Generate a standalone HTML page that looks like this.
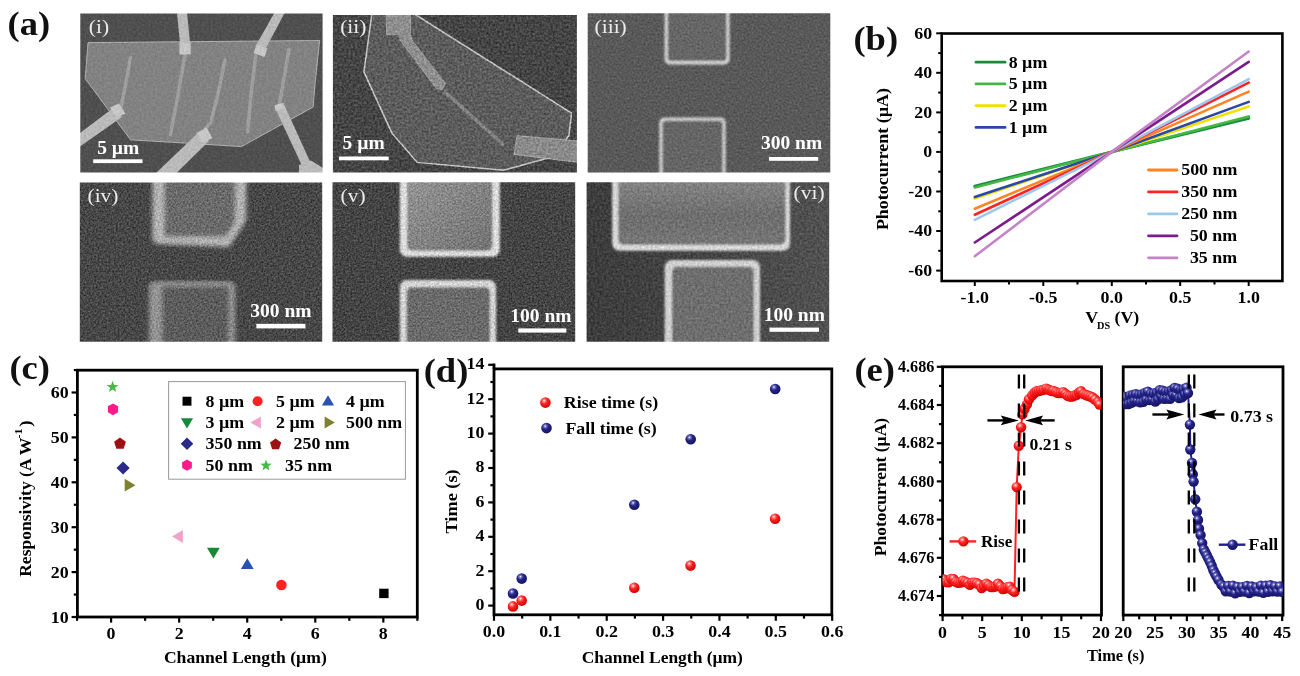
<!DOCTYPE html><html><head><meta charset="utf-8"><style>html,body{margin:0;padding:0;background:#fff;}svg{display:block;filter:blur(0.45px)}</style></head><body><svg width="1300" height="676" viewBox="0 0 1300 676"><defs>
<filter id="sn1" x="-2%" y="-2%" width="104%" height="104%" color-interpolation-filters="sRGB"><feGaussianBlur in="SourceGraphic" stdDeviation="0.6" result="b"/><feTurbulence type="fractalNoise" baseFrequency="0.45" numOctaves="2" seed="3" result="t"/><feColorMatrix in="t" type="matrix" values="1 0 0 0 0  1 0 0 0 0  1 0 0 0 0  0 0 0 0 1" result="g"/><feComposite in="b" in2="g" operator="arithmetic" k1="0" k2="1" k3="0.14" k4="-0.070" result="c"/><feGaussianBlur in="c" stdDeviation="0.45"/></filter>
<filter id="sn2" x="-2%" y="-2%" width="104%" height="104%" color-interpolation-filters="sRGB"><feGaussianBlur in="SourceGraphic" stdDeviation="0.6" result="b"/><feTurbulence type="fractalNoise" baseFrequency="0.45" numOctaves="2" seed="5" result="t"/><feColorMatrix in="t" type="matrix" values="1 0 0 0 0  1 0 0 0 0  1 0 0 0 0  0 0 0 0 1" result="g"/><feComposite in="b" in2="g" operator="arithmetic" k1="0" k2="1" k3="0.34" k4="-0.170" result="c"/><feGaussianBlur in="c" stdDeviation="0.45"/></filter>
<filter id="sn3" x="-2%" y="-2%" width="104%" height="104%" color-interpolation-filters="sRGB"><feGaussianBlur in="SourceGraphic" stdDeviation="0.6" result="b"/><feTurbulence type="fractalNoise" baseFrequency="0.5" numOctaves="2" seed="7" result="t"/><feColorMatrix in="t" type="matrix" values="1 0 0 0 0  1 0 0 0 0  1 0 0 0 0  0 0 0 0 1" result="g"/><feComposite in="b" in2="g" operator="arithmetic" k1="0" k2="1" k3="0.24" k4="-0.120" result="c"/><feGaussianBlur in="c" stdDeviation="0.45"/></filter>
<filter id="sn4" x="-2%" y="-2%" width="104%" height="104%" color-interpolation-filters="sRGB"><feGaussianBlur in="SourceGraphic" stdDeviation="0.6" result="b"/><feTurbulence type="fractalNoise" baseFrequency="0.55" numOctaves="2" seed="9" result="t"/><feColorMatrix in="t" type="matrix" values="1 0 0 0 0  1 0 0 0 0  1 0 0 0 0  0 0 0 0 1" result="g"/><feComposite in="b" in2="g" operator="arithmetic" k1="0" k2="1" k3="0.4" k4="-0.200" result="c"/><feGaussianBlur in="c" stdDeviation="0.45"/></filter>
<filter id="sn5" x="-2%" y="-2%" width="104%" height="104%" color-interpolation-filters="sRGB"><feGaussianBlur in="SourceGraphic" stdDeviation="0.6" result="b"/><feTurbulence type="fractalNoise" baseFrequency="0.55" numOctaves="2" seed="11" result="t"/><feColorMatrix in="t" type="matrix" values="1 0 0 0 0  1 0 0 0 0  1 0 0 0 0  0 0 0 0 1" result="g"/><feComposite in="b" in2="g" operator="arithmetic" k1="0" k2="1" k3="0.38" k4="-0.190" result="c"/><feGaussianBlur in="c" stdDeviation="0.45"/></filter>
<filter id="sn6" x="-2%" y="-2%" width="104%" height="104%" color-interpolation-filters="sRGB"><feGaussianBlur in="SourceGraphic" stdDeviation="0.6" result="b"/><feTurbulence type="fractalNoise" baseFrequency="0.45" numOctaves="2" seed="13" result="t"/><feColorMatrix in="t" type="matrix" values="1 0 0 0 0  1 0 0 0 0  1 0 0 0 0  0 0 0 0 1" result="g"/><feComposite in="b" in2="g" operator="arithmetic" k1="0" k2="1" k3="0.26" k4="-0.130" result="c"/><feGaussianBlur in="c" stdDeviation="0.45"/></filter>
<filter id="sb" x="-20%" y="-20%" width="140%" height="140%"><feGaussianBlur stdDeviation="1.3"/></filter>
<filter id="sb2" x="-50%" y="-300%" width="200%" height="700%"><feGaussianBlur stdDeviation="2.2"/></filter>
</defs>
<clipPath id="c1"><rect x="80.3" y="13.6" width="242.30" height="159.00"/></clipPath>
<g clip-path="url(#c1)"><g filter="url(#sn1)">
<rect x="76.3" y="9.6" width="250.30" height="167.00" fill="#4f4f4f"/>
<polygon points="88,42.6 319.6,40.5 314.5,90 313.2,107 241.5,146.6 200,144 130.5,139.8 85.2,78.6" fill="#828282" stroke="#b8b8b8" stroke-width="0.9"/>
<polyline points="130.5,57.3 126,82 121.2,106.5" fill="none" stroke="#9e9e9e" stroke-width="3.6" stroke-linecap="round"/>
<polyline points="185,54.6 178,95 170.4,134.5" fill="none" stroke="#9e9e9e" stroke-width="3.6" stroke-linecap="round"/>
<polyline points="225,60 218.9,90 210.7,122.7 205,129" fill="none" stroke="#9e9e9e" stroke-width="3.6" stroke-linecap="round"/>
<polyline points="255.7,56 251,95 247.7,131.5" fill="none" stroke="#9e9e9e" stroke-width="3.6" stroke-linecap="round"/>
<polyline points="289,49.3 284,78 279.6,103.9" fill="none" stroke="#9e9e9e" stroke-width="3.6" stroke-linecap="round"/>
<polygon points="177,13 187.1,13 190,43 180,43" fill="#bababa"/>
<rect x="179.4" y="42.6" width="11.3" height="11.8" fill="#c6c6c6"/>
<polygon points="274.3,13 284.6,13 265,50 255,47" fill="#bababa"/>
<polygon points="256.5,45 267.5,48.5 264.5,57 253.5,53" fill="#c6c6c6"/>
<polygon points="80,133 80,146.5 122,117 114.5,107" fill="#bababa"/>
<polygon points="110,107.5 119,103.5 125.5,113.5 116.5,117.5" fill="#c6c6c6"/>
<polygon points="155.5,173.5 176,173.5 209,141 200,131" fill="#bababa"/>
<polygon points="196.5,133 206.5,127.5 212.5,138 202.5,143" fill="#c6c6c6"/>
<polygon points="274.8,107.6 284.3,105 310.7,163 301.9,165.5" fill="#bababa"/>
<rect x="274.8" y="104" width="9.5" height="6" fill="#c6c6c6" transform="rotate(-15 279.5 107)"/>
<polygon points="299,165 311,160.5 323,168 323,174 299,174" fill="#bababa"/>
</g>
<text x="97.20" y="153.50" text-anchor="start" textLength="42.10" lengthAdjust="spacingAndGlyphs" style="font-family:'Liberation Serif',serif;font-weight:bold;font-size:19.5px" fill="#ffffff">5 µm</text>
<rect x="93.2" y="159.3" width="49.3" height="3.8" fill="#ffffff"/>
<text x="88.8" y="33.2" textLength="20.25" lengthAdjust="spacingAndGlyphs" fill="#ececec" style="font-family:'Liberation Serif',serif;font-size:19.5px">(i)</text>
</g>
<clipPath id="c2"><rect x="332.9" y="15.0" width="244.00" height="157.60"/></clipPath>
<g clip-path="url(#c2)"><g filter="url(#sn2)">
<rect x="328.9" y="11.0" width="252.00" height="165.60" fill="#454545"/>
<polygon points="371.9,14 414.5,14 571.5,113.1 568.9,135.7 551.6,157 503.7,170.3 417.2,162.4 391.9,133 363.9,71.9" fill="#5c5c5c" stroke="#c4c4c4" stroke-width="1.5"/>
<polygon points="386.5,14 410.5,14 410.5,34.6 412,40 445.5,83.5 442,90 436,88 399.8,40 399.8,34.6 386.5,34.6" fill="#8e8e8e" stroke="#aaaaaa" stroke-width="0.8"/>
<line x1="444" y1="91" x2="503.7" y2="145" stroke="#858585" stroke-width="3.4"/>
<polygon points="517,135.7 578,141 578,162.4 514.3,154.4" fill="#8a8a8a" stroke="#b4b4b4" stroke-width="0.8"/>
</g>
<text x="342.60" y="149.30" text-anchor="start" textLength="42.10" lengthAdjust="spacingAndGlyphs" style="font-family:'Liberation Serif',serif;font-weight:bold;font-size:19.5px" fill="#ffffff">5 µm</text>
<rect x="339" y="156.5" width="49.7" height="3.8" fill="#ffffff"/>
<text x="340.2" y="33.2" textLength="26.21" lengthAdjust="spacingAndGlyphs" fill="#ececec" style="font-family:'Liberation Serif',serif;font-size:19.5px">(ii)</text>
</g>
<clipPath id="c3"><rect x="587.7" y="13.3" width="242.60" height="159.30"/></clipPath>
<g clip-path="url(#c3)"><g filter="url(#sn3)">
<rect x="583.7" y="9.3" width="250.60" height="167.30" fill="#595959"/>
<g filter="url(#sb)"><rect x="664.6" y="2" width="65" height="62.5" rx="5" fill="#d4d4d4"/><rect x="667.8" y="2" width="58.6" height="59" rx="3" fill="#666666"/><rect x="659.3" y="117.6" width="66.4" height="62" rx="5" fill="#d0d0d0"/><rect x="662.5" y="120.8" width="60" height="60" rx="3" fill="#656565"/></g>
</g>
<text x="761.00" y="149.30" text-anchor="start" textLength="61.21" lengthAdjust="spacingAndGlyphs" style="font-family:'Liberation Serif',serif;font-weight:bold;font-size:19.5px" fill="#ffffff">300 nm</text>
<rect x="769" y="157" width="49.2" height="3.8" fill="#ffffff"/>
<text x="594.6" y="33.2" textLength="32.16" lengthAdjust="spacingAndGlyphs" fill="#ececec" style="font-family:'Liberation Serif',serif;font-size:19.5px">(iii)</text>
</g>
<clipPath id="c4"><rect x="79.8" y="182.4" width="242.40" height="159.30"/></clipPath>
<g clip-path="url(#c4)"><g filter="url(#sn4)">
<rect x="75.8" y="178.4" width="250.40" height="167.30" fill="#474747"/>
<line x1="150" y1="279.5" x2="236" y2="279.5" stroke="#333" stroke-width="2.5" opacity="0.7"/>
<g filter="url(#sb2)"><path d="M152.5,175 L246.5,175 L246,221 L229,247 L158,244 Q152.5,243 152.5,238 Z" fill="#b2b2b2"/><path d="M164.3,175 L235.3,175 L235.3,222 L226,236.8 L164.3,236.8 Z" fill="#6a6a6a"/><rect x="149" y="281.1" width="86.3" height="70" rx="6" fill="#939393"/><rect x="162.2" y="286.6" width="66.5" height="60" rx="2" fill="#5c5c5c"/></g>
</g>
<text x="250.30" y="316.60" text-anchor="start" textLength="61.21" lengthAdjust="spacingAndGlyphs" style="font-family:'Liberation Serif',serif;font-weight:bold;font-size:19.5px" fill="#ffffff">300 nm</text>
<rect x="256.4" y="323.8" width="49" height="4.6" fill="#ffffff"/>
<text x="87.5" y="202.3" textLength="30.97" lengthAdjust="spacingAndGlyphs" fill="#ececec" style="font-family:'Liberation Serif',serif;font-size:19.5px">(iv)</text>
</g>
<clipPath id="c5"><rect x="332.5" y="182.2" width="242.70" height="159.50"/></clipPath>
<g clip-path="url(#c5)"><g filter="url(#sn5)">
<rect x="328.5" y="178.2" width="250.70" height="167.50" fill="#444444"/>
<defs><linearGradient id="gv1" x1="0" y1="0" x2="1" y2="1"><stop offset="0" stop-color="#969696"/><stop offset="1" stop-color="#727272"/></linearGradient><linearGradient id="gv2" x1="0" y1="0" x2="0" y2="1"><stop offset="0" stop-color="#8a8a8a"/><stop offset="0.6" stop-color="#6e6e6e"/><stop offset="1" stop-color="#767676"/></linearGradient><linearGradient id="gvb" x1="0" y1="0" x2="1" y2="0"><stop offset="0" stop-color="#3c3c3c"/><stop offset="0.5" stop-color="#454545"/><stop offset="1" stop-color="#525252"/></linearGradient></defs>
<g filter="url(#sb)"><rect x="399.8" y="172" width="100" height="84.8" rx="7" fill="#dcdcdc"/><rect x="407" y="172" width="85.4" height="78.7" rx="5" fill="url(#gv1)"/><rect x="399.8" y="280" width="96.3" height="70" rx="7" fill="#d4d4d4"/><rect x="406.6" y="287.3" width="83.4" height="60" rx="5" fill="#6a6a6a"/></g>
</g>
<text x="510.30" y="321.80" text-anchor="start" textLength="61.21" lengthAdjust="spacingAndGlyphs" style="font-family:'Liberation Serif',serif;font-weight:bold;font-size:19.5px" fill="#ffffff">100 nm</text>
<rect x="518.3" y="328.4" width="48" height="4.2" fill="#ffffff"/>
<text x="340.6" y="202.3" textLength="25.01" lengthAdjust="spacingAndGlyphs" fill="#ececec" style="font-family:'Liberation Serif',serif;font-size:19.5px">(v)</text>
</g>
<clipPath id="c6"><rect x="586.6" y="182.2" width="242.60" height="159.50"/></clipPath>
<g clip-path="url(#c6)"><g filter="url(#sn6)">
<rect x="582.6" y="178.2" width="250.60" height="167.50" fill="#484848"/>
<rect x="582" y="178" width="252" height="168" fill="url(#gvb)"/>
<g filter="url(#sb)"><rect x="612.2" y="172" width="177.8" height="78.8" rx="7" fill="#d8d8d8"/><rect x="618.3" y="172" width="167.3" height="72.7" rx="5" fill="url(#gv2)"/><rect x="664.7" y="260.1" width="95.3" height="90" rx="7" fill="#d0d0d0"/><rect x="672" y="266.7" width="81.8" height="80" rx="5" fill="#6e6e6e"/></g>
</g>
<text x="763.70" y="321.30" text-anchor="start" textLength="61.21" lengthAdjust="spacingAndGlyphs" style="font-family:'Liberation Serif',serif;font-weight:bold;font-size:19.5px" fill="#ffffff">100 nm</text>
<rect x="769.5" y="327.6" width="49.5" height="4.2" fill="#ffffff"/>
<text x="793.6" y="199.0" textLength="30.97" lengthAdjust="spacingAndGlyphs" fill="#ececec" style="font-family:'Liberation Serif',serif;font-size:19.5px">(vi)</text>
</g>
<polyline points="974.8,186.2 1111.8,151.9 1248.7,118.3" fill="none" stroke="#1a8a3c" stroke-width="3.0" stroke-linecap="round"/>
<polyline points="974.8,187.5 1111.8,151.9 1248.7,116.4" fill="none" stroke="#44b844" stroke-width="2.6" stroke-linecap="round"/>
<polyline points="974.8,198.4 1111.8,151.9 1248.7,106.5" fill="none" stroke="#f2e000" stroke-width="2.6" stroke-linecap="round"/>
<polyline points="974.8,197.0 1111.8,151.9 1248.7,101.9" fill="none" stroke="#2a48a8" stroke-width="2.6" stroke-linecap="round"/>
<polyline points="974.8,208.7 1111.8,151.9 1248.7,91.6" fill="none" stroke="#ff8424" stroke-width="2.6" stroke-linecap="round"/>
<polyline points="974.8,214.8 1111.8,151.9 1248.7,82.7" fill="none" stroke="#ff2424" stroke-width="2.6" stroke-linecap="round"/>
<polyline points="974.8,219.8 1111.8,151.9 1248.7,79.2" fill="none" stroke="#9cc8ee" stroke-width="2.6" stroke-linecap="round"/>
<polyline points="974.8,242.5 1111.8,151.9 1248.7,61.8" fill="none" stroke="#7c1c8c" stroke-width="2.6" stroke-linecap="round"/>
<polyline points="974.8,256.2 1111.8,151.9 1248.7,51.5" fill="none" stroke="#c484c8" stroke-width="2.6" stroke-linecap="round"/>
<rect x="941.7" y="33.5" width="340.70000000000005" height="247.5" fill="none" stroke="#000" stroke-width="2.6"/>
<line x1="936.2" y1="270.6" x2="941.7" y2="270.6" stroke="#000" stroke-width="2"/>
<text x="932.20" y="275.80" text-anchor="end" textLength="23.84" lengthAdjust="spacingAndGlyphs" style="font-family:'Liberation Serif',serif;font-weight:bold;font-size:17.2px" fill="#000">-60</text>
<line x1="938.2" y1="250.8" x2="941.7" y2="250.8" stroke="#000" stroke-width="2"/>
<line x1="936.2" y1="231.0" x2="941.7" y2="231.0" stroke="#000" stroke-width="2"/>
<text x="932.20" y="236.25" text-anchor="end" textLength="23.84" lengthAdjust="spacingAndGlyphs" style="font-family:'Liberation Serif',serif;font-weight:bold;font-size:17.2px" fill="#000">-40</text>
<line x1="938.2" y1="211.3" x2="941.7" y2="211.3" stroke="#000" stroke-width="2"/>
<line x1="936.2" y1="191.5" x2="941.7" y2="191.5" stroke="#000" stroke-width="2"/>
<text x="932.20" y="196.70" text-anchor="end" textLength="23.84" lengthAdjust="spacingAndGlyphs" style="font-family:'Liberation Serif',serif;font-weight:bold;font-size:17.2px" fill="#000">-20</text>
<line x1="938.2" y1="171.7" x2="941.7" y2="171.7" stroke="#000" stroke-width="2"/>
<line x1="936.2" y1="151.9" x2="941.7" y2="151.9" stroke="#000" stroke-width="2"/>
<text x="932.20" y="157.15" text-anchor="end" textLength="8.94" lengthAdjust="spacingAndGlyphs" style="font-family:'Liberation Serif',serif;font-weight:bold;font-size:17.2px" fill="#000">0</text>
<line x1="938.2" y1="132.2" x2="941.7" y2="132.2" stroke="#000" stroke-width="2"/>
<line x1="936.2" y1="112.4" x2="941.7" y2="112.4" stroke="#000" stroke-width="2"/>
<text x="932.20" y="117.60" text-anchor="end" textLength="17.89" lengthAdjust="spacingAndGlyphs" style="font-family:'Liberation Serif',serif;font-weight:bold;font-size:17.2px" fill="#000">20</text>
<line x1="938.2" y1="92.6" x2="941.7" y2="92.6" stroke="#000" stroke-width="2"/>
<line x1="936.2" y1="72.8" x2="941.7" y2="72.8" stroke="#000" stroke-width="2"/>
<text x="932.20" y="78.05" text-anchor="end" textLength="17.89" lengthAdjust="spacingAndGlyphs" style="font-family:'Liberation Serif',serif;font-weight:bold;font-size:17.2px" fill="#000">40</text>
<line x1="938.2" y1="53.1" x2="941.7" y2="53.1" stroke="#000" stroke-width="2"/>
<line x1="936.2" y1="33.3" x2="941.7" y2="33.3" stroke="#000" stroke-width="2"/>
<text x="932.20" y="38.50" text-anchor="end" textLength="17.89" lengthAdjust="spacingAndGlyphs" style="font-family:'Liberation Serif',serif;font-weight:bold;font-size:17.2px" fill="#000">60</text>
<line x1="974.8" y1="281.0" x2="974.8" y2="286.0" stroke="#000" stroke-width="2"/>
<text x="974.80" y="302.50" text-anchor="middle" textLength="28.32" lengthAdjust="spacingAndGlyphs" style="font-family:'Liberation Serif',serif;font-weight:bold;font-size:17.2px" fill="#000">-1.0</text>
<line x1="1009.0" y1="281.0" x2="1009.0" y2="284.5" stroke="#000" stroke-width="2"/>
<line x1="1043.3" y1="281.0" x2="1043.3" y2="286.0" stroke="#000" stroke-width="2"/>
<text x="1043.28" y="302.50" text-anchor="middle" textLength="28.32" lengthAdjust="spacingAndGlyphs" style="font-family:'Liberation Serif',serif;font-weight:bold;font-size:17.2px" fill="#000">-0.5</text>
<line x1="1077.5" y1="281.0" x2="1077.5" y2="284.5" stroke="#000" stroke-width="2"/>
<line x1="1111.8" y1="281.0" x2="1111.8" y2="286.0" stroke="#000" stroke-width="2"/>
<text x="1111.75" y="302.50" text-anchor="middle" textLength="22.36" lengthAdjust="spacingAndGlyphs" style="font-family:'Liberation Serif',serif;font-weight:bold;font-size:17.2px" fill="#000">0.0</text>
<line x1="1146.0" y1="281.0" x2="1146.0" y2="284.5" stroke="#000" stroke-width="2"/>
<line x1="1180.2" y1="281.0" x2="1180.2" y2="286.0" stroke="#000" stroke-width="2"/>
<text x="1180.22" y="302.50" text-anchor="middle" textLength="22.36" lengthAdjust="spacingAndGlyphs" style="font-family:'Liberation Serif',serif;font-weight:bold;font-size:17.2px" fill="#000">0.5</text>
<line x1="1214.5" y1="281.0" x2="1214.5" y2="284.5" stroke="#000" stroke-width="2"/>
<line x1="1248.7" y1="281.0" x2="1248.7" y2="286.0" stroke="#000" stroke-width="2"/>
<text x="1248.70" y="302.50" text-anchor="middle" textLength="22.36" lengthAdjust="spacingAndGlyphs" style="font-family:'Liberation Serif',serif;font-weight:bold;font-size:17.2px" fill="#000">1.0</text>
<text x="1085.30" y="322.50" text-anchor="start" textLength="12.92" lengthAdjust="spacingAndGlyphs" style="font-family:'Liberation Serif',serif;font-weight:bold;font-size:17.2px" fill="#000">V</text>
<text x="1097.00" y="329.20" text-anchor="start" textLength="13.12" lengthAdjust="spacingAndGlyphs" style="font-family:'Liberation Serif',serif;font-weight:bold;font-size:9.5px" fill="#000">DS</text>
<text x="1114.50" y="322.50" text-anchor="start" textLength="24.83" lengthAdjust="spacingAndGlyphs" style="font-family:'Liberation Serif',serif;font-weight:bold;font-size:17.2px" fill="#000">(V)</text>
<text transform="translate(887.70,230.10) rotate(-90)" x="0" y="0" text-anchor="start" textLength="142.00" lengthAdjust="spacingAndGlyphs" style="font-family:'Liberation Serif',serif;font-weight:bold;font-size:17.2px" fill="#000">Photocurrent (µA)</text>
<line x1="976" y1="62.2" x2="1005" y2="62.2" stroke="#1a8a3c" stroke-width="2.8" stroke-linecap="round"/>
<text x="1008.70" y="67.50" text-anchor="start" textLength="38.62" lengthAdjust="spacingAndGlyphs" style="font-family:'Liberation Serif',serif;font-weight:bold;font-size:17.2px" fill="#000">8 µm</text>
<line x1="976" y1="83.95" x2="1005" y2="83.95" stroke="#44b844" stroke-width="2.8" stroke-linecap="round"/>
<text x="1008.70" y="89.25" text-anchor="start" textLength="38.62" lengthAdjust="spacingAndGlyphs" style="font-family:'Liberation Serif',serif;font-weight:bold;font-size:17.2px" fill="#000">5 µm</text>
<line x1="976" y1="105.7" x2="1005" y2="105.7" stroke="#f2e000" stroke-width="2.8" stroke-linecap="round"/>
<text x="1008.70" y="111.00" text-anchor="start" textLength="38.62" lengthAdjust="spacingAndGlyphs" style="font-family:'Liberation Serif',serif;font-weight:bold;font-size:17.2px" fill="#000">2 µm</text>
<line x1="976" y1="127.45" x2="1005" y2="127.45" stroke="#2a48a8" stroke-width="2.8" stroke-linecap="round"/>
<text x="1008.70" y="132.75" text-anchor="start" textLength="38.62" lengthAdjust="spacingAndGlyphs" style="font-family:'Liberation Serif',serif;font-weight:bold;font-size:17.2px" fill="#000">1 µm</text>
<line x1="1148.5" y1="170.0" x2="1177" y2="170.0" stroke="#ff8424" stroke-width="2.8" stroke-linecap="round"/>
<text x="1181.20" y="175.30" text-anchor="start" textLength="56.15" lengthAdjust="spacingAndGlyphs" style="font-family:'Liberation Serif',serif;font-weight:bold;font-size:17.2px" fill="#000">500 nm</text>
<line x1="1148.5" y1="191.95" x2="1177" y2="191.95" stroke="#ff2424" stroke-width="2.8" stroke-linecap="round"/>
<text x="1181.20" y="197.25" text-anchor="start" textLength="56.15" lengthAdjust="spacingAndGlyphs" style="font-family:'Liberation Serif',serif;font-weight:bold;font-size:17.2px" fill="#000">350 nm</text>
<line x1="1148.5" y1="213.9" x2="1177" y2="213.9" stroke="#9cc8ee" stroke-width="2.8" stroke-linecap="round"/>
<text x="1181.20" y="219.20" text-anchor="start" textLength="56.15" lengthAdjust="spacingAndGlyphs" style="font-family:'Liberation Serif',serif;font-weight:bold;font-size:17.2px" fill="#000">250 nm</text>
<line x1="1148.5" y1="235.85" x2="1177" y2="235.85" stroke="#7c1c8c" stroke-width="2.8" stroke-linecap="round"/>
<text x="1189.90" y="241.15" text-anchor="start" textLength="47.21" lengthAdjust="spacingAndGlyphs" style="font-family:'Liberation Serif',serif;font-weight:bold;font-size:17.2px" fill="#000">50 nm</text>
<line x1="1148.5" y1="257.8" x2="1177" y2="257.8" stroke="#c484c8" stroke-width="2.8" stroke-linecap="round"/>
<text x="1189.90" y="263.10" text-anchor="start" textLength="47.21" lengthAdjust="spacingAndGlyphs" style="font-family:'Liberation Serif',serif;font-weight:bold;font-size:17.2px" fill="#000">35 nm</text>
<text x="7.6" y="35.4" textLength="42.64" lengthAdjust="spacingAndGlyphs" style="font-family:'Liberation Serif',serif;font-weight:bold;font-size:34.5px" fill="#111">(a)</text>
<text x="853.4" y="50.0" textLength="44.70" lengthAdjust="spacingAndGlyphs" style="font-family:'Liberation Serif',serif;font-weight:bold;font-size:34.5px" fill="#111">(b)</text>
<rect x="77.4" y="370.2" width="339.9" height="246.8" fill="none" stroke="#000" stroke-width="2.8"/>
<line x1="71.60" y1="617.00" x2="77.40" y2="617.00" stroke="#000" stroke-width="2.2"/>
<text x="68.60" y="622.60" text-anchor="end" textLength="17.89" lengthAdjust="spacingAndGlyphs" style="font-family:'Liberation Serif',serif;font-weight:bold;font-size:17.2px" fill="#000">10</text>
<line x1="73.80" y1="594.55" x2="77.40" y2="594.55" stroke="#000" stroke-width="2.2"/>
<line x1="71.60" y1="572.10" x2="77.40" y2="572.10" stroke="#000" stroke-width="2.2"/>
<text x="68.60" y="577.70" text-anchor="end" textLength="17.89" lengthAdjust="spacingAndGlyphs" style="font-family:'Liberation Serif',serif;font-weight:bold;font-size:17.2px" fill="#000">20</text>
<line x1="73.80" y1="549.65" x2="77.40" y2="549.65" stroke="#000" stroke-width="2.2"/>
<line x1="71.60" y1="527.20" x2="77.40" y2="527.20" stroke="#000" stroke-width="2.2"/>
<text x="68.60" y="532.80" text-anchor="end" textLength="17.89" lengthAdjust="spacingAndGlyphs" style="font-family:'Liberation Serif',serif;font-weight:bold;font-size:17.2px" fill="#000">30</text>
<line x1="73.80" y1="504.75" x2="77.40" y2="504.75" stroke="#000" stroke-width="2.2"/>
<line x1="71.60" y1="482.30" x2="77.40" y2="482.30" stroke="#000" stroke-width="2.2"/>
<text x="68.60" y="487.90" text-anchor="end" textLength="17.89" lengthAdjust="spacingAndGlyphs" style="font-family:'Liberation Serif',serif;font-weight:bold;font-size:17.2px" fill="#000">40</text>
<line x1="73.80" y1="459.85" x2="77.40" y2="459.85" stroke="#000" stroke-width="2.2"/>
<line x1="71.60" y1="437.40" x2="77.40" y2="437.40" stroke="#000" stroke-width="2.2"/>
<text x="68.60" y="443.00" text-anchor="end" textLength="17.89" lengthAdjust="spacingAndGlyphs" style="font-family:'Liberation Serif',serif;font-weight:bold;font-size:17.2px" fill="#000">50</text>
<line x1="73.80" y1="414.95" x2="77.40" y2="414.95" stroke="#000" stroke-width="2.2"/>
<line x1="71.60" y1="392.50" x2="77.40" y2="392.50" stroke="#000" stroke-width="2.2"/>
<text x="68.60" y="398.10" text-anchor="end" textLength="17.89" lengthAdjust="spacingAndGlyphs" style="font-family:'Liberation Serif',serif;font-weight:bold;font-size:17.2px" fill="#000">60</text>
<line x1="73.80" y1="370.05" x2="77.40" y2="370.05" stroke="#000" stroke-width="2.2"/>
<line x1="77.07" y1="617.00" x2="77.07" y2="620.80" stroke="#000" stroke-width="2.2"/>
<line x1="111.10" y1="617.00" x2="111.10" y2="622.60" stroke="#000" stroke-width="2.2"/>
<text x="111.10" y="639.30" text-anchor="middle" textLength="8.94" lengthAdjust="spacingAndGlyphs" style="font-family:'Liberation Serif',serif;font-weight:bold;font-size:17.2px" fill="#000">0</text>
<line x1="145.13" y1="617.00" x2="145.13" y2="620.80" stroke="#000" stroke-width="2.2"/>
<line x1="179.16" y1="617.00" x2="179.16" y2="622.60" stroke="#000" stroke-width="2.2"/>
<text x="179.16" y="639.30" text-anchor="middle" textLength="8.94" lengthAdjust="spacingAndGlyphs" style="font-family:'Liberation Serif',serif;font-weight:bold;font-size:17.2px" fill="#000">2</text>
<line x1="213.19" y1="617.00" x2="213.19" y2="620.80" stroke="#000" stroke-width="2.2"/>
<line x1="247.22" y1="617.00" x2="247.22" y2="622.60" stroke="#000" stroke-width="2.2"/>
<text x="247.22" y="639.30" text-anchor="middle" textLength="8.94" lengthAdjust="spacingAndGlyphs" style="font-family:'Liberation Serif',serif;font-weight:bold;font-size:17.2px" fill="#000">4</text>
<line x1="281.25" y1="617.00" x2="281.25" y2="620.80" stroke="#000" stroke-width="2.2"/>
<line x1="315.28" y1="617.00" x2="315.28" y2="622.60" stroke="#000" stroke-width="2.2"/>
<text x="315.28" y="639.30" text-anchor="middle" textLength="8.94" lengthAdjust="spacingAndGlyphs" style="font-family:'Liberation Serif',serif;font-weight:bold;font-size:17.2px" fill="#000">6</text>
<line x1="349.31" y1="617.00" x2="349.31" y2="620.80" stroke="#000" stroke-width="2.2"/>
<line x1="383.34" y1="617.00" x2="383.34" y2="622.60" stroke="#000" stroke-width="2.2"/>
<text x="383.34" y="639.30" text-anchor="middle" textLength="8.94" lengthAdjust="spacingAndGlyphs" style="font-family:'Liberation Serif',serif;font-weight:bold;font-size:17.2px" fill="#000">8</text>
<line x1="417.37" y1="617.00" x2="417.37" y2="620.80" stroke="#000" stroke-width="2.2"/>
<text x="163.90" y="663.40" text-anchor="start" textLength="162.90" lengthAdjust="spacingAndGlyphs" style="font-family:'Liberation Serif',serif;font-weight:bold;font-size:17.2px" fill="#000">Channel Length (µm)</text>
<text transform="translate(31.40,576.80) rotate(-90)" x="0" y="0" text-anchor="start" textLength="139.00" lengthAdjust="spacingAndGlyphs" style="font-family:'Liberation Serif',serif;font-weight:bold;font-size:17.2px" fill="#000">Responsivity (A W</text>
<text transform="translate(21.80,438.60) rotate(-90)" x="0" y="0" text-anchor="start" textLength="10.08" lengthAdjust="spacingAndGlyphs" style="font-family:'Liberation Serif',serif;font-weight:bold;font-size:11px" fill="#000">-1</text>
<text transform="translate(31.40,426.80) rotate(-90)" x="0" y="0" text-anchor="start" textLength="6.30" lengthAdjust="spacingAndGlyphs" style="font-family:'Liberation Serif',serif;font-weight:bold;font-size:17.2px" fill="#000">)</text>
<rect x="379.20" y="588.70" width="9.40" height="9.40" fill="#000000"/>
<circle cx="281.4" cy="585.0" r="5.30" fill="#ff2222"/>
<polygon points="240.90,569.10 253.70,569.10 247.30,558.30" fill="#2a52b2"/>
<polygon points="207.00,547.70 219.80,547.70 213.40,558.50" fill="#178a3a"/>
<polygon points="182.90,530.10 182.90,542.90 172.10,536.50" fill="#f2a2c8"/>
<polygon points="124.70,478.80 124.70,491.60 135.50,485.20" fill="#808030"/>
<polygon points="123.1,461.40 129.70,468.0 123.1,474.60 116.50,468.0" fill="#2a2a88"/>
<polygon points="120.00,437.50 125.90,441.78 123.64,448.72 116.36,448.72 114.10,441.78" fill="#9c1212"/>
<polygon points="113.00,403.40 118.11,406.35 118.11,412.25 113.00,415.20 107.89,412.25 107.89,406.35" fill="#ff1a8c"/>
<polygon points="112.60,380.70 114.13,384.90 118.59,385.05 115.07,387.80 116.30,392.10 112.60,389.60 108.90,392.10 110.13,387.80 106.61,385.05 111.07,384.90" fill="#44bb44"/>
<rect x="168.6" y="381.6" width="236.8" height="97.6" fill="#fff" stroke="#999" stroke-width="1"/>
<rect x="182.53" y="396.74" width="8.93" height="8.93" fill="#000000"/>
<text x="205.60" y="406.80" text-anchor="start" textLength="38.62" lengthAdjust="spacingAndGlyphs" style="font-family:'Liberation Serif',serif;font-weight:bold;font-size:17.2px" fill="#000">8 µm</text>
<circle cx="257.6" cy="401.2" r="5.03" fill="#ff2222"/>
<text x="276.00" y="406.80" text-anchor="start" textLength="38.62" lengthAdjust="spacingAndGlyphs" style="font-family:'Liberation Serif',serif;font-weight:bold;font-size:17.2px" fill="#000">5 µm</text>
<polygon points="321.92,405.57 334.08,405.57 328.00,395.31" fill="#2a52b2"/>
<text x="346.00" y="406.80" text-anchor="start" textLength="38.62" lengthAdjust="spacingAndGlyphs" style="font-family:'Liberation Serif',serif;font-weight:bold;font-size:17.2px" fill="#000">4 µm</text>
<polygon points="180.92,418.13 193.08,418.13 187.00,428.39" fill="#178a3a"/>
<text x="205.60" y="428.10" text-anchor="start" textLength="38.62" lengthAdjust="spacingAndGlyphs" style="font-family:'Liberation Serif',serif;font-weight:bold;font-size:17.2px" fill="#000">3 µm</text>
<polygon points="260.87,416.42 260.87,428.58 250.61,422.50" fill="#f2a2c8"/>
<text x="276.00" y="428.10" text-anchor="start" textLength="38.62" lengthAdjust="spacingAndGlyphs" style="font-family:'Liberation Serif',serif;font-weight:bold;font-size:17.2px" fill="#000">2 µm</text>
<polygon points="324.63,416.42 324.63,428.58 334.89,422.50" fill="#808030"/>
<text x="346.00" y="428.10" text-anchor="start" textLength="56.15" lengthAdjust="spacingAndGlyphs" style="font-family:'Liberation Serif',serif;font-weight:bold;font-size:17.2px" fill="#000">500 nm</text>
<polygon points="187,437.53 193.27,443.8 187,450.07 180.73,443.8" fill="#2a2a88"/>
<text x="205.60" y="449.40" text-anchor="start" textLength="56.15" lengthAdjust="spacingAndGlyphs" style="font-family:'Liberation Serif',serif;font-weight:bold;font-size:17.2px" fill="#000">350 nm</text>
<polygon points="275.60,438.48 281.20,442.55 279.06,449.14 272.14,449.14 270.00,442.55" fill="#9c1212"/>
<text x="293.60" y="449.40" text-anchor="start" textLength="56.15" lengthAdjust="spacingAndGlyphs" style="font-family:'Liberation Serif',serif;font-weight:bold;font-size:17.2px" fill="#000">250 nm</text>
<polygon points="187.00,459.50 191.85,462.30 191.85,467.90 187.00,470.71 182.15,467.90 182.15,462.30" fill="#ff1a8c"/>
<text x="205.60" y="470.70" text-anchor="start" textLength="47.21" lengthAdjust="spacingAndGlyphs" style="font-family:'Liberation Serif',serif;font-weight:bold;font-size:17.2px" fill="#000">50 nm</text>
<polygon points="266.00,459.59 267.45,463.58 271.69,463.73 268.35,466.34 269.52,470.42 266.00,468.05 262.48,470.42 263.65,466.34 260.31,463.73 264.55,463.58" fill="#44bb44"/>
<text x="285.00" y="470.70" text-anchor="start" textLength="47.21" lengthAdjust="spacingAndGlyphs" style="font-family:'Liberation Serif',serif;font-weight:bold;font-size:17.2px" fill="#000">35 nm</text>
<text x="9.4" y="379.2" textLength="40.59" lengthAdjust="spacingAndGlyphs" style="font-family:'Liberation Serif',serif;font-weight:bold;font-size:34.5px" fill="#111">(c)</text>
<defs><radialGradient id="gr" cx="0.38" cy="0.32" r="0.7"><stop offset="0" stop-color="#ffffff"/><stop offset="0.18" stop-color="#ff8080"/><stop offset="0.45" stop-color="#ff2020"/><stop offset="1" stop-color="#d00000"/></radialGradient><radialGradient id="gb" cx="0.38" cy="0.32" r="0.7"><stop offset="0" stop-color="#ffffff"/><stop offset="0.18" stop-color="#7070c0"/><stop offset="0.45" stop-color="#222288"/><stop offset="1" stop-color="#141460"/></radialGradient></defs>
<rect x="494.0" y="368.9" width="337.79999999999995" height="245.89999999999998" fill="none" stroke="#000" stroke-width="2.8"/>
<line x1="494.00" y1="363.50" x2="494.00" y2="368.90" stroke="#000" stroke-width="2.8"/>
<line x1="488.20" y1="605.60" x2="494.00" y2="605.60" stroke="#000" stroke-width="2.2"/>
<text x="484.50" y="609.90" text-anchor="end" textLength="8.94" lengthAdjust="spacingAndGlyphs" style="font-family:'Liberation Serif',serif;font-weight:bold;font-size:17.2px" fill="#000">0</text>
<line x1="490.40" y1="588.40" x2="494.00" y2="588.40" stroke="#000" stroke-width="2.2"/>
<line x1="488.20" y1="571.20" x2="494.00" y2="571.20" stroke="#000" stroke-width="2.2"/>
<text x="484.50" y="575.50" text-anchor="end" textLength="8.94" lengthAdjust="spacingAndGlyphs" style="font-family:'Liberation Serif',serif;font-weight:bold;font-size:17.2px" fill="#000">2</text>
<line x1="490.40" y1="554.00" x2="494.00" y2="554.00" stroke="#000" stroke-width="2.2"/>
<line x1="488.20" y1="536.80" x2="494.00" y2="536.80" stroke="#000" stroke-width="2.2"/>
<text x="484.50" y="541.10" text-anchor="end" textLength="8.94" lengthAdjust="spacingAndGlyphs" style="font-family:'Liberation Serif',serif;font-weight:bold;font-size:17.2px" fill="#000">4</text>
<line x1="490.40" y1="519.60" x2="494.00" y2="519.60" stroke="#000" stroke-width="2.2"/>
<line x1="488.20" y1="502.40" x2="494.00" y2="502.40" stroke="#000" stroke-width="2.2"/>
<text x="484.50" y="506.70" text-anchor="end" textLength="8.94" lengthAdjust="spacingAndGlyphs" style="font-family:'Liberation Serif',serif;font-weight:bold;font-size:17.2px" fill="#000">6</text>
<line x1="490.40" y1="485.20" x2="494.00" y2="485.20" stroke="#000" stroke-width="2.2"/>
<line x1="488.20" y1="468.00" x2="494.00" y2="468.00" stroke="#000" stroke-width="2.2"/>
<text x="484.50" y="472.30" text-anchor="end" textLength="8.94" lengthAdjust="spacingAndGlyphs" style="font-family:'Liberation Serif',serif;font-weight:bold;font-size:17.2px" fill="#000">8</text>
<line x1="490.40" y1="450.80" x2="494.00" y2="450.80" stroke="#000" stroke-width="2.2"/>
<line x1="488.20" y1="433.60" x2="494.00" y2="433.60" stroke="#000" stroke-width="2.2"/>
<text x="484.50" y="437.90" text-anchor="end" textLength="17.89" lengthAdjust="spacingAndGlyphs" style="font-family:'Liberation Serif',serif;font-weight:bold;font-size:17.2px" fill="#000">10</text>
<line x1="490.40" y1="416.40" x2="494.00" y2="416.40" stroke="#000" stroke-width="2.2"/>
<line x1="488.20" y1="399.20" x2="494.00" y2="399.20" stroke="#000" stroke-width="2.2"/>
<text x="484.50" y="403.50" text-anchor="end" textLength="17.89" lengthAdjust="spacingAndGlyphs" style="font-family:'Liberation Serif',serif;font-weight:bold;font-size:17.2px" fill="#000">12</text>
<line x1="490.40" y1="382.00" x2="494.00" y2="382.00" stroke="#000" stroke-width="2.2"/>
<line x1="488.20" y1="364.80" x2="494.00" y2="364.80" stroke="#000" stroke-width="2.2"/>
<text x="484.50" y="369.10" text-anchor="end" textLength="17.89" lengthAdjust="spacingAndGlyphs" style="font-family:'Liberation Serif',serif;font-weight:bold;font-size:17.2px" fill="#000">14</text>
<line x1="494.00" y1="614.80" x2="494.00" y2="620.80" stroke="#000" stroke-width="2.2"/>
<text x="494.00" y="637.30" text-anchor="middle" textLength="22.36" lengthAdjust="spacingAndGlyphs" style="font-family:'Liberation Serif',serif;font-weight:bold;font-size:17.2px" fill="#000">0.0</text>
<line x1="522.18" y1="614.80" x2="522.18" y2="618.60" stroke="#000" stroke-width="2.2"/>
<line x1="550.36" y1="614.80" x2="550.36" y2="620.80" stroke="#000" stroke-width="2.2"/>
<text x="550.36" y="637.30" text-anchor="middle" textLength="22.36" lengthAdjust="spacingAndGlyphs" style="font-family:'Liberation Serif',serif;font-weight:bold;font-size:17.2px" fill="#000">0.1</text>
<line x1="578.54" y1="614.80" x2="578.54" y2="618.60" stroke="#000" stroke-width="2.2"/>
<line x1="606.72" y1="614.80" x2="606.72" y2="620.80" stroke="#000" stroke-width="2.2"/>
<text x="606.72" y="637.30" text-anchor="middle" textLength="22.36" lengthAdjust="spacingAndGlyphs" style="font-family:'Liberation Serif',serif;font-weight:bold;font-size:17.2px" fill="#000">0.2</text>
<line x1="634.90" y1="614.80" x2="634.90" y2="618.60" stroke="#000" stroke-width="2.2"/>
<line x1="663.08" y1="614.80" x2="663.08" y2="620.80" stroke="#000" stroke-width="2.2"/>
<text x="663.08" y="637.30" text-anchor="middle" textLength="22.36" lengthAdjust="spacingAndGlyphs" style="font-family:'Liberation Serif',serif;font-weight:bold;font-size:17.2px" fill="#000">0.3</text>
<line x1="691.26" y1="614.80" x2="691.26" y2="618.60" stroke="#000" stroke-width="2.2"/>
<line x1="719.44" y1="614.80" x2="719.44" y2="620.80" stroke="#000" stroke-width="2.2"/>
<text x="719.44" y="637.30" text-anchor="middle" textLength="22.36" lengthAdjust="spacingAndGlyphs" style="font-family:'Liberation Serif',serif;font-weight:bold;font-size:17.2px" fill="#000">0.4</text>
<line x1="747.62" y1="614.80" x2="747.62" y2="618.60" stroke="#000" stroke-width="2.2"/>
<line x1="775.80" y1="614.80" x2="775.80" y2="620.80" stroke="#000" stroke-width="2.2"/>
<text x="775.80" y="637.30" text-anchor="middle" textLength="22.36" lengthAdjust="spacingAndGlyphs" style="font-family:'Liberation Serif',serif;font-weight:bold;font-size:17.2px" fill="#000">0.5</text>
<line x1="803.98" y1="614.80" x2="803.98" y2="618.60" stroke="#000" stroke-width="2.2"/>
<line x1="832.16" y1="614.80" x2="832.16" y2="620.80" stroke="#000" stroke-width="2.2"/>
<text x="832.16" y="637.30" text-anchor="middle" textLength="22.36" lengthAdjust="spacingAndGlyphs" style="font-family:'Liberation Serif',serif;font-weight:bold;font-size:17.2px" fill="#000">0.6</text>
<text x="581.70" y="662.50" text-anchor="start" textLength="161.20" lengthAdjust="spacingAndGlyphs" style="font-family:'Liberation Serif',serif;font-weight:bold;font-size:17.2px" fill="#000">Channel Length (µm)</text>
<text transform="translate(457.00,533.60) rotate(-90)" x="0" y="0" text-anchor="start" textLength="64.30" lengthAdjust="spacingAndGlyphs" style="font-family:'Liberation Serif',serif;font-weight:bold;font-size:17.2px" fill="#000">Time (s)</text>
<circle cx="513.0" cy="593.5" r="5.3" fill="url(#gb)"/>
<circle cx="521.7" cy="578.6" r="5.3" fill="url(#gb)"/>
<circle cx="634.3" cy="504.7" r="5.3" fill="url(#gb)"/>
<circle cx="690.7" cy="439.3" r="5.3" fill="url(#gb)"/>
<circle cx="775.2" cy="389.0" r="5.3" fill="url(#gb)"/>
<circle cx="513.0" cy="606.4" r="5.3" fill="url(#gr)"/>
<circle cx="521.7" cy="600.6" r="5.3" fill="url(#gr)"/>
<circle cx="634.3" cy="587.7" r="5.3" fill="url(#gr)"/>
<circle cx="690.5" cy="565.6" r="5.3" fill="url(#gr)"/>
<circle cx="775.1" cy="518.7" r="5.3" fill="url(#gr)"/>
<circle cx="545.4" cy="402.6" r="5.3" fill="url(#gr)"/>
<circle cx="546.5" cy="428.1" r="5.3" fill="url(#gb)"/>
<text x="563.80" y="408.20" text-anchor="start" textLength="94.38" lengthAdjust="spacingAndGlyphs" style="font-family:'Liberation Serif',serif;font-weight:bold;font-size:17.2px" fill="#000">Rise time (s)</text>
<text x="565.40" y="433.70" text-anchor="start" textLength="91.40" lengthAdjust="spacingAndGlyphs" style="font-family:'Liberation Serif',serif;font-weight:bold;font-size:17.2px" fill="#000">Fall time (s)</text>
<text x="423.7" y="381.9" textLength="44.70" lengthAdjust="spacingAndGlyphs" style="font-family:'Liberation Serif',serif;font-weight:bold;font-size:34.5px" fill="#111">(d)</text>
<rect x="942.6" y="366.8" width="158.89999999999998" height="248.3" fill="none" stroke="#000" stroke-width="2.8"/>
<rect x="1123.2" y="366.8" width="159.79999999999995" height="248.3" fill="none" stroke="#000" stroke-width="2.8"/>
<line x1="939.00" y1="615.10" x2="942.60" y2="615.10" stroke="#000" stroke-width="2.2"/>
<line x1="936.80" y1="596.00" x2="942.60" y2="596.00" stroke="#000" stroke-width="2.2"/>
<text x="934.40" y="601.20" text-anchor="end" textLength="36.50" lengthAdjust="spacingAndGlyphs" style="font-family:'Liberation Serif',serif;font-weight:bold;font-size:17.2px" fill="#000">4.674</text>
<line x1="939.00" y1="576.90" x2="942.60" y2="576.90" stroke="#000" stroke-width="2.2"/>
<line x1="936.80" y1="557.80" x2="942.60" y2="557.80" stroke="#000" stroke-width="2.2"/>
<text x="934.40" y="563.00" text-anchor="end" textLength="36.50" lengthAdjust="spacingAndGlyphs" style="font-family:'Liberation Serif',serif;font-weight:bold;font-size:17.2px" fill="#000">4.676</text>
<line x1="939.00" y1="538.70" x2="942.60" y2="538.70" stroke="#000" stroke-width="2.2"/>
<line x1="936.80" y1="519.60" x2="942.60" y2="519.60" stroke="#000" stroke-width="2.2"/>
<text x="934.40" y="524.80" text-anchor="end" textLength="36.50" lengthAdjust="spacingAndGlyphs" style="font-family:'Liberation Serif',serif;font-weight:bold;font-size:17.2px" fill="#000">4.678</text>
<line x1="939.00" y1="500.50" x2="942.60" y2="500.50" stroke="#000" stroke-width="2.2"/>
<line x1="936.80" y1="481.40" x2="942.60" y2="481.40" stroke="#000" stroke-width="2.2"/>
<text x="934.40" y="486.60" text-anchor="end" textLength="36.50" lengthAdjust="spacingAndGlyphs" style="font-family:'Liberation Serif',serif;font-weight:bold;font-size:17.2px" fill="#000">4.680</text>
<line x1="939.00" y1="462.30" x2="942.60" y2="462.30" stroke="#000" stroke-width="2.2"/>
<line x1="936.80" y1="443.20" x2="942.60" y2="443.20" stroke="#000" stroke-width="2.2"/>
<text x="934.40" y="448.40" text-anchor="end" textLength="36.50" lengthAdjust="spacingAndGlyphs" style="font-family:'Liberation Serif',serif;font-weight:bold;font-size:17.2px" fill="#000">4.682</text>
<line x1="939.00" y1="424.10" x2="942.60" y2="424.10" stroke="#000" stroke-width="2.2"/>
<line x1="936.80" y1="405.00" x2="942.60" y2="405.00" stroke="#000" stroke-width="2.2"/>
<text x="934.40" y="410.20" text-anchor="end" textLength="36.50" lengthAdjust="spacingAndGlyphs" style="font-family:'Liberation Serif',serif;font-weight:bold;font-size:17.2px" fill="#000">4.684</text>
<line x1="939.00" y1="385.90" x2="942.60" y2="385.90" stroke="#000" stroke-width="2.2"/>
<line x1="936.80" y1="366.80" x2="942.60" y2="366.80" stroke="#000" stroke-width="2.2"/>
<text x="934.40" y="372.00" text-anchor="end" textLength="36.50" lengthAdjust="spacingAndGlyphs" style="font-family:'Liberation Serif',serif;font-weight:bold;font-size:17.2px" fill="#000">4.686</text>
<line x1="942.60" y1="615.10" x2="942.60" y2="621.10" stroke="#000" stroke-width="2.2"/>
<text x="942.60" y="637.60" text-anchor="middle" textLength="8.94" lengthAdjust="spacingAndGlyphs" style="font-family:'Liberation Serif',serif;font-weight:bold;font-size:17.2px" fill="#000">0</text>
<line x1="962.40" y1="615.10" x2="962.40" y2="619.30" stroke="#000" stroke-width="2.2"/>
<line x1="982.20" y1="615.10" x2="982.20" y2="621.10" stroke="#000" stroke-width="2.2"/>
<text x="982.20" y="637.60" text-anchor="middle" textLength="8.94" lengthAdjust="spacingAndGlyphs" style="font-family:'Liberation Serif',serif;font-weight:bold;font-size:17.2px" fill="#000">5</text>
<line x1="1002.00" y1="615.10" x2="1002.00" y2="619.30" stroke="#000" stroke-width="2.2"/>
<line x1="1021.80" y1="615.10" x2="1021.80" y2="621.10" stroke="#000" stroke-width="2.2"/>
<text x="1021.80" y="637.60" text-anchor="middle" textLength="17.89" lengthAdjust="spacingAndGlyphs" style="font-family:'Liberation Serif',serif;font-weight:bold;font-size:17.2px" fill="#000">10</text>
<line x1="1041.60" y1="615.10" x2="1041.60" y2="619.30" stroke="#000" stroke-width="2.2"/>
<line x1="1061.40" y1="615.10" x2="1061.40" y2="621.10" stroke="#000" stroke-width="2.2"/>
<text x="1061.40" y="637.60" text-anchor="middle" textLength="17.89" lengthAdjust="spacingAndGlyphs" style="font-family:'Liberation Serif',serif;font-weight:bold;font-size:17.2px" fill="#000">15</text>
<line x1="1081.20" y1="615.10" x2="1081.20" y2="619.30" stroke="#000" stroke-width="2.2"/>
<line x1="1101.00" y1="615.10" x2="1101.00" y2="621.10" stroke="#000" stroke-width="2.2"/>
<text x="1101.00" y="637.60" text-anchor="middle" textLength="17.89" lengthAdjust="spacingAndGlyphs" style="font-family:'Liberation Serif',serif;font-weight:bold;font-size:17.2px" fill="#000">20</text>
<line x1="1123.30" y1="615.10" x2="1123.30" y2="621.10" stroke="#000" stroke-width="2.2"/>
<text x="1123.30" y="637.60" text-anchor="middle" textLength="17.89" lengthAdjust="spacingAndGlyphs" style="font-family:'Liberation Serif',serif;font-weight:bold;font-size:17.2px" fill="#000">20</text>
<line x1="1139.19" y1="615.10" x2="1139.19" y2="619.30" stroke="#000" stroke-width="2.2"/>
<line x1="1155.08" y1="615.10" x2="1155.08" y2="621.10" stroke="#000" stroke-width="2.2"/>
<text x="1155.08" y="637.60" text-anchor="middle" textLength="17.89" lengthAdjust="spacingAndGlyphs" style="font-family:'Liberation Serif',serif;font-weight:bold;font-size:17.2px" fill="#000">25</text>
<line x1="1170.97" y1="615.10" x2="1170.97" y2="619.30" stroke="#000" stroke-width="2.2"/>
<line x1="1186.86" y1="615.10" x2="1186.86" y2="621.10" stroke="#000" stroke-width="2.2"/>
<text x="1186.86" y="637.60" text-anchor="middle" textLength="17.89" lengthAdjust="spacingAndGlyphs" style="font-family:'Liberation Serif',serif;font-weight:bold;font-size:17.2px" fill="#000">30</text>
<line x1="1202.75" y1="615.10" x2="1202.75" y2="619.30" stroke="#000" stroke-width="2.2"/>
<line x1="1218.64" y1="615.10" x2="1218.64" y2="621.10" stroke="#000" stroke-width="2.2"/>
<text x="1218.64" y="637.60" text-anchor="middle" textLength="17.89" lengthAdjust="spacingAndGlyphs" style="font-family:'Liberation Serif',serif;font-weight:bold;font-size:17.2px" fill="#000">35</text>
<line x1="1234.53" y1="615.10" x2="1234.53" y2="619.30" stroke="#000" stroke-width="2.2"/>
<line x1="1250.42" y1="615.10" x2="1250.42" y2="621.10" stroke="#000" stroke-width="2.2"/>
<text x="1250.42" y="637.60" text-anchor="middle" textLength="17.89" lengthAdjust="spacingAndGlyphs" style="font-family:'Liberation Serif',serif;font-weight:bold;font-size:17.2px" fill="#000">40</text>
<line x1="1266.31" y1="615.10" x2="1266.31" y2="619.30" stroke="#000" stroke-width="2.2"/>
<line x1="1282.20" y1="615.10" x2="1282.20" y2="621.10" stroke="#000" stroke-width="2.2"/>
<text x="1282.20" y="637.60" text-anchor="middle" textLength="17.89" lengthAdjust="spacingAndGlyphs" style="font-family:'Liberation Serif',serif;font-weight:bold;font-size:17.2px" fill="#000">45</text>
<text x="1087.00" y="660.70" text-anchor="start" textLength="57.40" lengthAdjust="spacingAndGlyphs" style="font-family:'Liberation Serif',serif;font-weight:bold;font-size:17.2px" fill="#000">Time (s)</text>
<text transform="translate(886.00,556.20) rotate(-90)" x="0" y="0" text-anchor="start" textLength="138.30" lengthAdjust="spacingAndGlyphs" style="font-family:'Liberation Serif',serif;font-weight:bold;font-size:17.2px" fill="#000">Photocurrent (µA)</text>
<clipPath id="ce1"><rect x="942.6" y="367.1" width="158.9" height="247.6"/></clipPath>
<g clip-path="url(#ce1)">
<polyline points="944.0,579.4 946.4,582.1 948.7,582.4 951.0,578.9 953.4,578.9 955.8,581.9 958.1,582.9 960.5,582.6 962.8,580.7 965.1,581.6 967.5,582.7 969.9,584.8 972.2,582.7 974.5,582.6 976.9,583.3 979.2,584.6 981.6,588.1 984.0,586.1 986.3,583.7 988.6,585.2 991.0,587.0 993.4,587.1 995.7,586.2 998.0,583.8 1000.4,586.2 1002.8,589.1 1005.1,588.5 1007.5,587.3 1009.8,586.6 1012.1,590.1 1014.5,591.7 1016.7,487.1 1018.8,445.8 1021.1,427.3 1022.4,414.4 1024.5,409.0 1026.9,404.4 1029.0,399.3 1032.2,395.4 1034.5,392.8 1036.6,391.3 1039.0,391.0 1041.1,390.4 1043.5,389.8 1046.4,388.6 1048.5,389.6 1050.0,390.4 1052.0,391.0 1053.5,390.9 1056.0,392.0 1058.0,393.1 1060.5,393.0 1063.3,392.2 1065.5,394.0 1067.7,395.8 1070.0,396.5 1072.2,396.6 1074.5,395.5 1076.6,394.9 1079.0,392.5 1081.0,391.3 1083.7,394.0 1086.0,395.0 1088.1,395.8 1090.4,396.5 1092.6,397.5 1095.0,399.5 1097.9,402.0 1099.5,404.6" fill="none" stroke="#ff2020" stroke-width="2"/>
<circle cx="944.0" cy="579.4" r="5.2" fill="url(#gr)"/>
<circle cx="946.4" cy="582.1" r="5.2" fill="url(#gr)"/>
<circle cx="948.7" cy="582.4" r="5.2" fill="url(#gr)"/>
<circle cx="951.0" cy="578.9" r="5.2" fill="url(#gr)"/>
<circle cx="953.4" cy="578.9" r="5.2" fill="url(#gr)"/>
<circle cx="955.8" cy="581.9" r="5.2" fill="url(#gr)"/>
<circle cx="958.1" cy="582.9" r="5.2" fill="url(#gr)"/>
<circle cx="960.5" cy="582.6" r="5.2" fill="url(#gr)"/>
<circle cx="962.8" cy="580.7" r="5.2" fill="url(#gr)"/>
<circle cx="965.1" cy="581.6" r="5.2" fill="url(#gr)"/>
<circle cx="967.5" cy="582.7" r="5.2" fill="url(#gr)"/>
<circle cx="969.9" cy="584.8" r="5.2" fill="url(#gr)"/>
<circle cx="972.2" cy="582.7" r="5.2" fill="url(#gr)"/>
<circle cx="974.5" cy="582.6" r="5.2" fill="url(#gr)"/>
<circle cx="976.9" cy="583.3" r="5.2" fill="url(#gr)"/>
<circle cx="979.2" cy="584.6" r="5.2" fill="url(#gr)"/>
<circle cx="981.6" cy="588.1" r="5.2" fill="url(#gr)"/>
<circle cx="984.0" cy="586.1" r="5.2" fill="url(#gr)"/>
<circle cx="986.3" cy="583.7" r="5.2" fill="url(#gr)"/>
<circle cx="988.6" cy="585.2" r="5.2" fill="url(#gr)"/>
<circle cx="991.0" cy="587.0" r="5.2" fill="url(#gr)"/>
<circle cx="993.4" cy="587.1" r="5.2" fill="url(#gr)"/>
<circle cx="995.7" cy="586.2" r="5.2" fill="url(#gr)"/>
<circle cx="998.0" cy="583.8" r="5.2" fill="url(#gr)"/>
<circle cx="1000.4" cy="586.2" r="5.2" fill="url(#gr)"/>
<circle cx="1002.8" cy="589.1" r="5.2" fill="url(#gr)"/>
<circle cx="1005.1" cy="588.5" r="5.2" fill="url(#gr)"/>
<circle cx="1007.5" cy="587.3" r="5.2" fill="url(#gr)"/>
<circle cx="1009.8" cy="586.6" r="5.2" fill="url(#gr)"/>
<circle cx="1012.1" cy="590.1" r="5.2" fill="url(#gr)"/>
<circle cx="1014.5" cy="591.7" r="5.2" fill="url(#gr)"/>
<circle cx="1016.7" cy="487.1" r="5.2" fill="url(#gr)"/>
<circle cx="1018.8" cy="445.8" r="5.2" fill="url(#gr)"/>
<circle cx="1021.1" cy="427.3" r="5.2" fill="url(#gr)"/>
<circle cx="1022.4" cy="414.4" r="5.2" fill="url(#gr)"/>
<circle cx="1024.5" cy="409.0" r="5.2" fill="url(#gr)"/>
<circle cx="1026.9" cy="404.4" r="5.2" fill="url(#gr)"/>
<circle cx="1029.0" cy="399.3" r="5.2" fill="url(#gr)"/>
<circle cx="1032.2" cy="395.4" r="5.2" fill="url(#gr)"/>
<circle cx="1034.5" cy="392.8" r="5.2" fill="url(#gr)"/>
<circle cx="1036.6" cy="391.3" r="5.2" fill="url(#gr)"/>
<circle cx="1039.0" cy="391.0" r="5.2" fill="url(#gr)"/>
<circle cx="1041.1" cy="390.4" r="5.2" fill="url(#gr)"/>
<circle cx="1043.5" cy="389.8" r="5.2" fill="url(#gr)"/>
<circle cx="1046.4" cy="388.6" r="5.2" fill="url(#gr)"/>
<circle cx="1048.5" cy="389.6" r="5.2" fill="url(#gr)"/>
<circle cx="1050.0" cy="390.4" r="5.2" fill="url(#gr)"/>
<circle cx="1052.0" cy="391.0" r="5.2" fill="url(#gr)"/>
<circle cx="1053.5" cy="390.9" r="5.2" fill="url(#gr)"/>
<circle cx="1056.0" cy="392.0" r="5.2" fill="url(#gr)"/>
<circle cx="1058.0" cy="393.1" r="5.2" fill="url(#gr)"/>
<circle cx="1060.5" cy="393.0" r="5.2" fill="url(#gr)"/>
<circle cx="1063.3" cy="392.2" r="5.2" fill="url(#gr)"/>
<circle cx="1065.5" cy="394.0" r="5.2" fill="url(#gr)"/>
<circle cx="1067.7" cy="395.8" r="5.2" fill="url(#gr)"/>
<circle cx="1070.0" cy="396.5" r="5.2" fill="url(#gr)"/>
<circle cx="1072.2" cy="396.6" r="5.2" fill="url(#gr)"/>
<circle cx="1074.5" cy="395.5" r="5.2" fill="url(#gr)"/>
<circle cx="1076.6" cy="394.9" r="5.2" fill="url(#gr)"/>
<circle cx="1079.0" cy="392.5" r="5.2" fill="url(#gr)"/>
<circle cx="1081.0" cy="391.3" r="5.2" fill="url(#gr)"/>
<circle cx="1083.7" cy="394.0" r="5.2" fill="url(#gr)"/>
<circle cx="1086.0" cy="395.0" r="5.2" fill="url(#gr)"/>
<circle cx="1088.1" cy="395.8" r="5.2" fill="url(#gr)"/>
<circle cx="1090.4" cy="396.5" r="5.2" fill="url(#gr)"/>
<circle cx="1092.6" cy="397.5" r="5.2" fill="url(#gr)"/>
<circle cx="1095.0" cy="399.5" r="5.2" fill="url(#gr)"/>
<circle cx="1097.9" cy="402.0" r="5.2" fill="url(#gr)"/>
<circle cx="1099.5" cy="404.6" r="5.2" fill="url(#gr)"/>
</g>
<clipPath id="ce2"><rect x="1123.2" y="367.1" width="159.8" height="247.6"/></clipPath>
<g clip-path="url(#ce2)">
<polyline points="1124.0,396.6 1125.5,404.1 1127.0,397.7 1128.5,404.0 1130.0,395.6 1131.4,402.8 1132.9,394.9 1134.4,401.2 1135.9,394.3 1137.4,401.3 1138.9,394.9 1140.4,402.3 1141.9,394.5 1143.3,401.9 1144.8,392.9 1146.3,399.9 1147.8,391.6 1149.3,400.1 1150.8,393.7 1152.3,399.8 1153.8,393.5 1155.3,401.5 1156.7,392.6 1158.2,399.4 1159.7,390.3 1161.2,396.3 1162.7,390.8 1164.2,398.9 1165.7,391.7 1167.2,398.6 1168.7,391.6 1170.1,398.9 1171.6,390.3 1173.1,395.1 1174.6,388.0 1176.1,395.1 1177.6,388.8 1179.1,398.1 1180.6,390.1 1182.0,397.4 1183.5,389.2 1185.0,394.4 1186.5,387.6 1188.0,393.1 1189.9,424.6 1190.3,449.5 1192.0,463.0 1192.8,474.3 1193.6,481.6 1195.2,499.2 1196.9,511.7 1198.0,520.0 1199.0,528.7 1200.6,535.1 1202.2,543.1 1203.8,549.5 1205.4,552.5 1207.0,555.8 1208.6,559.0 1210.2,562.2 1211.8,566.0 1213.4,570.2 1215.0,573.5 1216.6,576.6 1218.5,580.0 1221.4,584.6 1223.5,586.5 1225.8,591.3 1228.2,586.0 1230.5,591.5 1232.9,585.6 1235.2,593.3 1237.5,586.9 1239.9,591.7 1242.2,587.1 1244.6,591.5 1246.9,585.9 1249.2,593.1 1251.6,586.5 1253.9,591.2 1256.3,587.4 1258.6,591.5 1260.9,585.6 1263.3,592.9 1265.6,585.8 1268.0,591.7 1270.3,585.2 1272.6,591.2 1275.0,586.4 1277.3,591.6 1279.7,586.4 1282.0,591.9" fill="none" stroke="#222288" stroke-width="2"/>
<circle cx="1124.0" cy="396.6" r="5.2" fill="url(#gb)"/>
<circle cx="1125.5" cy="404.1" r="5.2" fill="url(#gb)"/>
<circle cx="1127.0" cy="397.7" r="5.2" fill="url(#gb)"/>
<circle cx="1128.5" cy="404.0" r="5.2" fill="url(#gb)"/>
<circle cx="1130.0" cy="395.6" r="5.2" fill="url(#gb)"/>
<circle cx="1131.4" cy="402.8" r="5.2" fill="url(#gb)"/>
<circle cx="1132.9" cy="394.9" r="5.2" fill="url(#gb)"/>
<circle cx="1134.4" cy="401.2" r="5.2" fill="url(#gb)"/>
<circle cx="1135.9" cy="394.3" r="5.2" fill="url(#gb)"/>
<circle cx="1137.4" cy="401.3" r="5.2" fill="url(#gb)"/>
<circle cx="1138.9" cy="394.9" r="5.2" fill="url(#gb)"/>
<circle cx="1140.4" cy="402.3" r="5.2" fill="url(#gb)"/>
<circle cx="1141.9" cy="394.5" r="5.2" fill="url(#gb)"/>
<circle cx="1143.3" cy="401.9" r="5.2" fill="url(#gb)"/>
<circle cx="1144.8" cy="392.9" r="5.2" fill="url(#gb)"/>
<circle cx="1146.3" cy="399.9" r="5.2" fill="url(#gb)"/>
<circle cx="1147.8" cy="391.6" r="5.2" fill="url(#gb)"/>
<circle cx="1149.3" cy="400.1" r="5.2" fill="url(#gb)"/>
<circle cx="1150.8" cy="393.7" r="5.2" fill="url(#gb)"/>
<circle cx="1152.3" cy="399.8" r="5.2" fill="url(#gb)"/>
<circle cx="1153.8" cy="393.5" r="5.2" fill="url(#gb)"/>
<circle cx="1155.3" cy="401.5" r="5.2" fill="url(#gb)"/>
<circle cx="1156.7" cy="392.6" r="5.2" fill="url(#gb)"/>
<circle cx="1158.2" cy="399.4" r="5.2" fill="url(#gb)"/>
<circle cx="1159.7" cy="390.3" r="5.2" fill="url(#gb)"/>
<circle cx="1161.2" cy="396.3" r="5.2" fill="url(#gb)"/>
<circle cx="1162.7" cy="390.8" r="5.2" fill="url(#gb)"/>
<circle cx="1164.2" cy="398.9" r="5.2" fill="url(#gb)"/>
<circle cx="1165.7" cy="391.7" r="5.2" fill="url(#gb)"/>
<circle cx="1167.2" cy="398.6" r="5.2" fill="url(#gb)"/>
<circle cx="1168.7" cy="391.6" r="5.2" fill="url(#gb)"/>
<circle cx="1170.1" cy="398.9" r="5.2" fill="url(#gb)"/>
<circle cx="1171.6" cy="390.3" r="5.2" fill="url(#gb)"/>
<circle cx="1173.1" cy="395.1" r="5.2" fill="url(#gb)"/>
<circle cx="1174.6" cy="388.0" r="5.2" fill="url(#gb)"/>
<circle cx="1176.1" cy="395.1" r="5.2" fill="url(#gb)"/>
<circle cx="1177.6" cy="388.8" r="5.2" fill="url(#gb)"/>
<circle cx="1179.1" cy="398.1" r="5.2" fill="url(#gb)"/>
<circle cx="1180.6" cy="390.1" r="5.2" fill="url(#gb)"/>
<circle cx="1182.0" cy="397.4" r="5.2" fill="url(#gb)"/>
<circle cx="1183.5" cy="389.2" r="5.2" fill="url(#gb)"/>
<circle cx="1185.0" cy="394.4" r="5.2" fill="url(#gb)"/>
<circle cx="1186.5" cy="387.6" r="5.2" fill="url(#gb)"/>
<circle cx="1188.0" cy="393.1" r="5.2" fill="url(#gb)"/>
<circle cx="1189.9" cy="424.6" r="5.2" fill="url(#gb)"/>
<circle cx="1190.3" cy="449.5" r="5.2" fill="url(#gb)"/>
<circle cx="1192.0" cy="463.0" r="5.2" fill="url(#gb)"/>
<circle cx="1192.8" cy="474.3" r="5.2" fill="url(#gb)"/>
<circle cx="1193.6" cy="481.6" r="5.2" fill="url(#gb)"/>
<circle cx="1195.2" cy="499.2" r="5.2" fill="url(#gb)"/>
<circle cx="1196.9" cy="511.7" r="5.2" fill="url(#gb)"/>
<circle cx="1198.0" cy="520.0" r="5.2" fill="url(#gb)"/>
<circle cx="1199.0" cy="528.7" r="5.2" fill="url(#gb)"/>
<circle cx="1200.6" cy="535.1" r="5.2" fill="url(#gb)"/>
<circle cx="1202.2" cy="543.1" r="5.2" fill="url(#gb)"/>
<circle cx="1203.8" cy="549.5" r="5.2" fill="url(#gb)"/>
<circle cx="1205.4" cy="552.5" r="5.2" fill="url(#gb)"/>
<circle cx="1207.0" cy="555.8" r="5.2" fill="url(#gb)"/>
<circle cx="1208.6" cy="559.0" r="5.2" fill="url(#gb)"/>
<circle cx="1210.2" cy="562.2" r="5.2" fill="url(#gb)"/>
<circle cx="1211.8" cy="566.0" r="5.2" fill="url(#gb)"/>
<circle cx="1213.4" cy="570.2" r="5.2" fill="url(#gb)"/>
<circle cx="1215.0" cy="573.5" r="5.2" fill="url(#gb)"/>
<circle cx="1216.6" cy="576.6" r="5.2" fill="url(#gb)"/>
<circle cx="1218.5" cy="580.0" r="5.2" fill="url(#gb)"/>
<circle cx="1221.4" cy="584.6" r="5.2" fill="url(#gb)"/>
<circle cx="1223.5" cy="586.5" r="5.2" fill="url(#gb)"/>
<circle cx="1225.8" cy="591.3" r="5.2" fill="url(#gb)"/>
<circle cx="1228.2" cy="586.0" r="5.2" fill="url(#gb)"/>
<circle cx="1230.5" cy="591.5" r="5.2" fill="url(#gb)"/>
<circle cx="1232.9" cy="585.6" r="5.2" fill="url(#gb)"/>
<circle cx="1235.2" cy="593.3" r="5.2" fill="url(#gb)"/>
<circle cx="1237.5" cy="586.9" r="5.2" fill="url(#gb)"/>
<circle cx="1239.9" cy="591.7" r="5.2" fill="url(#gb)"/>
<circle cx="1242.2" cy="587.1" r="5.2" fill="url(#gb)"/>
<circle cx="1244.6" cy="591.5" r="5.2" fill="url(#gb)"/>
<circle cx="1246.9" cy="585.9" r="5.2" fill="url(#gb)"/>
<circle cx="1249.2" cy="593.1" r="5.2" fill="url(#gb)"/>
<circle cx="1251.6" cy="586.5" r="5.2" fill="url(#gb)"/>
<circle cx="1253.9" cy="591.2" r="5.2" fill="url(#gb)"/>
<circle cx="1256.3" cy="587.4" r="5.2" fill="url(#gb)"/>
<circle cx="1258.6" cy="591.5" r="5.2" fill="url(#gb)"/>
<circle cx="1260.9" cy="585.6" r="5.2" fill="url(#gb)"/>
<circle cx="1263.3" cy="592.9" r="5.2" fill="url(#gb)"/>
<circle cx="1265.6" cy="585.8" r="5.2" fill="url(#gb)"/>
<circle cx="1268.0" cy="591.7" r="5.2" fill="url(#gb)"/>
<circle cx="1270.3" cy="585.2" r="5.2" fill="url(#gb)"/>
<circle cx="1272.6" cy="591.2" r="5.2" fill="url(#gb)"/>
<circle cx="1275.0" cy="586.4" r="5.2" fill="url(#gb)"/>
<circle cx="1277.3" cy="591.6" r="5.2" fill="url(#gb)"/>
<circle cx="1279.7" cy="586.4" r="5.2" fill="url(#gb)"/>
<circle cx="1282.0" cy="591.9" r="5.2" fill="url(#gb)"/>
</g>
<line x1="1018.9" y1="374.4" x2="1018.9" y2="592" stroke="#000" stroke-width="2.3" stroke-dasharray="14 15"/>
<line x1="1024.2" y1="374.4" x2="1024.2" y2="592" stroke="#000" stroke-width="2.3" stroke-dasharray="14 15"/>
<line x1="1188.8" y1="374.4" x2="1188.8" y2="592" stroke="#000" stroke-width="2.3" stroke-dasharray="14 15"/>
<line x1="1194.3" y1="374.4" x2="1194.3" y2="592" stroke="#000" stroke-width="2.3" stroke-dasharray="14 15"/>
<line x1="987.4" y1="420.4" x2="1004" y2="420.4" stroke="#000" stroke-width="2.4"/>
<polygon points="1018.8,420.4 1000.8,415.5 1003.8,420.4 1000.8,425.29999999999995" fill="#000"/>
<line x1="1040" y1="420.4" x2="1054.7" y2="420.4" stroke="#000" stroke-width="2.4"/>
<polygon points="1025.1,420.4 1043.1,415.5 1040.1,420.4 1043.1,425.29999999999995" fill="#000"/>
<line x1="1152.4" y1="414.5" x2="1170" y2="414.5" stroke="#000" stroke-width="2.4"/>
<polygon points="1184.3,414.5 1166.3,409.6 1169.3,414.5 1166.3,419.4" fill="#000"/>
<line x1="1212" y1="414.5" x2="1224.5" y2="414.5" stroke="#000" stroke-width="2.4"/>
<polygon points="1198.5,414.5 1216.5,409.6 1213.5,414.5 1216.5,419.4" fill="#000"/>
<text x="1029.60" y="450.20" text-anchor="start" textLength="42.20" lengthAdjust="spacingAndGlyphs" style="font-family:'Liberation Serif',serif;font-weight:bold;font-size:16px" fill="#000">0.21 s</text>
<text x="1230.30" y="421.80" text-anchor="start" textLength="42.80" lengthAdjust="spacingAndGlyphs" style="font-family:'Liberation Serif',serif;font-weight:bold;font-size:16px" fill="#000">0.73 s</text>
<line x1="949.6" y1="541.4" x2="976.2" y2="541.4" stroke="#ff2020" stroke-width="2.4"/>
<circle cx="963.4" cy="541.4" r="5.2" fill="url(#gr)"/>
<text x="981.00" y="547.00" text-anchor="start" textLength="31.20" lengthAdjust="spacingAndGlyphs" style="font-family:'Liberation Serif',serif;font-weight:bold;font-size:17.2px" fill="#000">Rise</text>
<line x1="1218.8" y1="544.7" x2="1245.4" y2="544.7" stroke="#222288" stroke-width="2.4"/>
<circle cx="1232.6" cy="544.7" r="5.2" fill="url(#gb)"/>
<text x="1248.60" y="550.30" text-anchor="start" textLength="29.70" lengthAdjust="spacingAndGlyphs" style="font-family:'Liberation Serif',serif;font-weight:bold;font-size:17.2px" fill="#000">Fall</text>
<text x="854.4" y="380.9" textLength="40.59" lengthAdjust="spacingAndGlyphs" style="font-family:'Liberation Serif',serif;font-weight:bold;font-size:34.5px" fill="#111">(e)</text></svg></body></html>
